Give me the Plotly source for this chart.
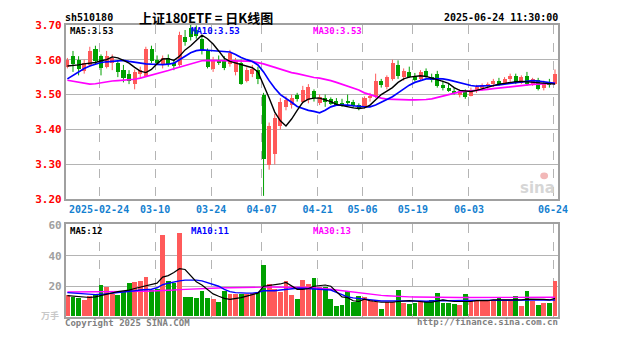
import plotly.graph_objects as go

# ---- trading days shown on the chart ----
dates = [
    "2025-02-14", "2025-02-17", "2025-02-18", "2025-02-19", "2025-02-20", "2025-02-21",
    "2025-02-24", "2025-02-25", "2025-02-26", "2025-02-27", "2025-02-28",
    "2025-03-03", "2025-03-04", "2025-03-05", "2025-03-06", "2025-03-07",
    "2025-03-10", "2025-03-11", "2025-03-12", "2025-03-13", "2025-03-14",
    "2025-03-17", "2025-03-18", "2025-03-19", "2025-03-20", "2025-03-21",
    "2025-03-24", "2025-03-25", "2025-03-26", "2025-03-27", "2025-03-28", "2025-03-31",
    "2025-04-01", "2025-04-02", "2025-04-03", "2025-04-07", "2025-04-08", "2025-04-09",
    "2025-04-10", "2025-04-11", "2025-04-14", "2025-04-15", "2025-04-16", "2025-04-17",
    "2025-04-18", "2025-04-21", "2025-04-22", "2025-04-23", "2025-04-24", "2025-04-25",
    "2025-04-28", "2025-04-29", "2025-04-30",
    "2025-05-06", "2025-05-07", "2025-05-08", "2025-05-09", "2025-05-12", "2025-05-13",
    "2025-05-14", "2025-05-15", "2025-05-16", "2025-05-19", "2025-05-20", "2025-05-21",
    "2025-05-22", "2025-05-23", "2025-05-26", "2025-05-27", "2025-05-28", "2025-05-29",
    "2025-05-30",
    "2025-06-03", "2025-06-04", "2025-06-05", "2025-06-06", "2025-06-09", "2025-06-10",
    "2025-06-11", "2025-06-12", "2025-06-13", "2025-06-16", "2025-06-17", "2025-06-18",
    "2025-06-19", "2025-06-20", "2025-06-23", "2025-06-24",
]

# ---- daily prices ----
opens = [
    3.580, 3.612, 3.600, 3.568, 3.585, 3.630, 3.610, 3.580, 3.590, 3.592,
    3.572, 3.560, 3.532, 3.560, 3.555, 3.632, 3.600, 3.588, 3.605, 3.590,
    3.585, 3.665, 3.690, 3.685, 3.660, 3.628, 3.575, 3.600, 3.600, 3.588,
    3.565, 3.590, 3.540, 3.560, 3.570, 3.500, 3.300, 3.330, 3.410, 3.465,
    3.470, 3.500, 3.480, 3.485, 3.510, 3.478, 3.490, 3.488, 3.482, 3.478,
    3.480, 3.480, 3.470, 3.466, 3.492, 3.495, 3.540, 3.522, 3.545, 3.585,
    3.552, 3.565, 3.550, 3.545, 3.568, 3.550, 3.560, 3.528, 3.520, 3.512,
    3.500, 3.510, 3.498, 3.512, 3.520, 3.525, 3.530, 3.540, 3.532, 3.545,
    3.555, 3.535, 3.555, 3.530, 3.542, 3.520, 3.535, 3.532,
]
highs = [
    3.605, 3.625, 3.610, 3.600, 3.637, 3.640, 3.615, 3.625, 3.615, 3.598,
    3.585, 3.570, 3.572, 3.580, 3.637, 3.640, 3.612, 3.612, 3.615, 3.600,
    3.680, 3.685, 3.700, 3.698, 3.670, 3.632, 3.608, 3.612, 3.610, 3.628,
    3.605, 3.600, 3.578, 3.585, 3.580, 3.505, 3.420, 3.445, 3.490, 3.495,
    3.500, 3.505, 3.525, 3.530, 3.515, 3.500, 3.500, 3.492, 3.490, 3.488,
    3.500, 3.485, 3.475, 3.495, 3.505, 3.560, 3.545, 3.555, 3.600, 3.598,
    3.575, 3.580, 3.562, 3.570, 3.575, 3.560, 3.568, 3.540, 3.530, 3.520,
    3.515, 3.515, 3.520, 3.528, 3.532, 3.535, 3.545, 3.548, 3.550, 3.560,
    3.560, 3.555, 3.565, 3.548, 3.548, 3.540, 3.545, 3.572,
]
lows = [
    3.575, 3.565, 3.555, 3.560, 3.580, 3.585, 3.555, 3.575, 3.570, 3.550,
    3.535, 3.530, 3.515, 3.548, 3.550, 3.590, 3.585, 3.575, 3.580, 3.570,
    3.580, 3.640, 3.655, 3.660, 3.615, 3.575, 3.565, 3.585, 3.570, 3.580,
    3.555, 3.528, 3.535, 3.550, 3.530, 3.210, 3.285, 3.300, 3.400, 3.455,
    3.460, 3.480, 3.475, 3.475, 3.480, 3.470, 3.465, 3.470, 3.468, 3.465,
    3.470, 3.462, 3.455, 3.460, 3.480, 3.490, 3.520, 3.515, 3.540, 3.545,
    3.540, 3.548, 3.538, 3.540, 3.548, 3.535, 3.520, 3.512, 3.508, 3.500,
    3.492, 3.488, 3.495, 3.505, 3.512, 3.515, 3.522, 3.525, 3.528, 3.535,
    3.530, 3.530, 3.525, 3.525, 3.512, 3.512, 3.520, 3.528,
]
closes = [
    3.600, 3.588, 3.575, 3.590, 3.625, 3.598, 3.578, 3.610, 3.605, 3.565,
    3.548, 3.540, 3.565, 3.572, 3.630, 3.598, 3.590, 3.605, 3.588, 3.582,
    3.672, 3.650, 3.665, 3.668, 3.625, 3.580, 3.600, 3.590, 3.578, 3.620,
    3.598, 3.532, 3.570, 3.575, 3.545, 3.315, 3.410, 3.435, 3.480, 3.485,
    3.492, 3.488, 3.515, 3.522, 3.490, 3.495, 3.480, 3.475, 3.472, 3.470,
    3.478, 3.468, 3.462, 3.490, 3.498, 3.540, 3.528, 3.550, 3.590, 3.555,
    3.568, 3.552, 3.545, 3.565, 3.552, 3.545, 3.525, 3.520, 3.512, 3.505,
    3.510, 3.495, 3.515, 3.522, 3.528, 3.532, 3.540, 3.530, 3.545, 3.555,
    3.535, 3.550, 3.530, 3.545, 3.518, 3.535, 3.528, 3.560,
]

# ---- price moving averages ----
ma5 = [
    3.582, 3.583, 3.585, 3.588, 3.590, 3.592, 3.597, 3.600, 3.608, 3.605,
    3.598, 3.590, 3.578, 3.567, 3.563, 3.572, 3.588, 3.602, 3.603, 3.598,
    3.610, 3.628, 3.640, 3.655, 3.670, 3.660, 3.645, 3.625, 3.604, 3.595,
    3.590, 3.585, 3.580, 3.577, 3.565, 3.530, 3.490, 3.450, 3.425, 3.410,
    3.430, 3.455, 3.478, 3.487, 3.490, 3.490, 3.485, 3.480, 3.472, 3.468,
    3.465, 3.462, 3.460, 3.462, 3.470, 3.485, 3.500, 3.510, 3.520, 3.535,
    3.545, 3.550, 3.553, 3.554, 3.552, 3.548, 3.543, 3.538, 3.532, 3.520,
    3.512, 3.510, 3.509, 3.512, 3.517, 3.522, 3.527, 3.530, 3.532, 3.535,
    3.537, 3.538, 3.537, 3.536, 3.535, 3.533, 3.531, 3.530,
]
ma10 = [
    3.545, 3.555, 3.565, 3.575, 3.582, 3.588, 3.592, 3.594, 3.596, 3.598,
    3.598, 3.595, 3.592, 3.590, 3.588, 3.587, 3.586, 3.586, 3.587, 3.590,
    3.600, 3.610, 3.620, 3.626, 3.628, 3.627, 3.626, 3.625, 3.624, 3.622,
    3.615, 3.606, 3.600, 3.595, 3.585, 3.565, 3.540, 3.518, 3.500, 3.490,
    3.478, 3.466, 3.460, 3.455, 3.452, 3.448, 3.455, 3.465, 3.470, 3.471,
    3.470, 3.468, 3.466, 3.465, 3.465, 3.470, 3.478, 3.486, 3.494, 3.505,
    3.516, 3.527, 3.535, 3.540, 3.545, 3.546, 3.546, 3.545, 3.542, 3.538,
    3.533, 3.528, 3.526, 3.524, 3.524, 3.524, 3.526, 3.528, 3.530, 3.532,
    3.535, 3.538, 3.540, 3.540, 3.539, 3.537, 3.534, 3.532,
]
ma30 = [
    3.541, 3.538, 3.535, 3.532, 3.530, 3.531, 3.534, 3.537, 3.539, 3.540,
    3.541, 3.542, 3.544, 3.547, 3.551, 3.555, 3.560, 3.564, 3.569, 3.574,
    3.579, 3.583, 3.588, 3.593, 3.597, 3.598, 3.598, 3.598, 3.598, 3.597,
    3.597, 3.596, 3.596, 3.595, 3.592, 3.588, 3.583, 3.578, 3.572, 3.567,
    3.563, 3.560, 3.556, 3.552, 3.549, 3.547, 3.544, 3.540, 3.535, 3.530,
    3.525, 3.520, 3.513, 3.505, 3.500, 3.494, 3.490, 3.487, 3.486, 3.485,
    3.485, 3.485, 3.485, 3.485, 3.486, 3.488, 3.492, 3.496, 3.500, 3.504,
    3.508, 3.509, 3.510, 3.512, 3.513, 3.515, 3.517, 3.519, 3.521, 3.523,
    3.525, 3.527, 3.528, 3.529, 3.530, 3.531, 3.532, 3.533,
]

# ---- volume (10k lots) and its moving averages ----
volume = [
    14.0, 12.5, 12.0, 11.0, 13.5, 14.5, 20.5, 19.0, 14.5, 14.0,
    16.5, 22.0, 22.5, 23.0, 26.0, 17.5, 18.0, 53.5, 23.0, 22.0,
    54.5, 12.5, 12.5, 12.0, 16.5, 12.0, 11.5, 9.5, 16.5, 14.5,
    14.5, 14.5, 14.5, 15.0, 16.0, 33.5, 21.0, 18.0, 16.0, 23.5,
    14.0, 11.5, 24.0, 21.0, 25.0, 19.5, 19.5, 11.5, 7.0, 7.5,
    16.5, 9.5, 13.5, 13.0, 10.5, 9.5, 5.0, 9.5, 9.5, 17.0,
    8.5, 8.0, 8.5, 10.0, 10.0, 10.5, 15.5, 8.5, 8.5, 8.0,
    7.5, 14.5, 11.0, 11.0, 10.5, 10.5, 10.0, 12.5, 10.5, 10.5,
    13.5, 7.0, 16.5, 10.0, 7.5, 9.0, 9.0, 23.5,
]
vma5 = [
    13.9, 13.5, 13.0, 12.6, 12.6, 13.0, 14.0, 15.0, 16.0, 16.5,
    17.0, 17.5, 18.5, 19.5, 20.0, 21.0, 22.0, 26.0, 27.0, 29.0,
    31.5, 31.0, 27.0, 23.0, 20.8, 18.0, 15.0, 13.4, 12.0, 11.4,
    11.8, 12.5, 13.5, 14.5, 15.5, 20.0, 20.5, 21.0, 21.5, 22.5,
    20.0, 18.0, 18.0, 18.5, 20.0, 20.5, 20.8, 20.0, 16.5, 13.0,
    12.5, 10.5, 10.0, 11.5, 10.5, 10.0, 9.5, 9.5, 9.5, 10.0,
    10.3, 10.5, 10.3, 9.8, 9.5, 9.5, 10.5, 11.0, 10.5, 10.0,
    10.0, 10.0, 10.0, 10.5, 10.3, 10.5, 11.0, 11.0, 11.0, 11.0,
    11.4, 11.0, 11.5, 11.5, 11.3, 11.4, 11.0, 12.0,
]
vma10 = [
    15.8, 15.5, 15.0, 14.7, 14.5, 14.5, 14.7, 15.0, 15.5, 15.8,
    16.0, 16.5, 17.0, 17.5, 17.7, 18.0, 19.0, 21.0, 22.0, 23.0,
    23.5, 24.0, 24.0, 24.0, 23.5, 22.5, 21.5, 20.0, 18.0, 16.5,
    15.8, 15.5, 15.5, 15.5, 16.0, 17.0, 17.0, 17.0, 17.5, 18.0,
    18.5, 18.7, 18.7, 18.5, 18.5, 18.0, 17.7, 17.5, 16.0, 14.5,
    13.0, 12.4, 12.0, 11.5, 11.0, 10.5, 10.3, 10.3, 10.3, 10.5,
    10.7, 10.5, 10.3, 10.3, 10.2, 10.4, 10.6, 10.6, 10.5, 10.4,
    10.4, 10.6, 10.7, 10.7, 10.6, 10.5, 10.5, 10.6, 10.7, 10.8,
    10.8, 10.7, 10.9, 11.0, 11.0, 10.9, 10.8, 11.0,
]
vma30 = [
    16.2, 16.2, 16.3, 16.3, 16.3, 16.3, 16.3, 16.3, 16.3, 16.3,
    16.4, 16.5, 16.5, 16.6, 16.7, 16.8, 16.9, 17.0, 17.2, 17.5,
    17.8, 18.0, 18.3, 18.5, 18.7, 18.9, 19.0, 19.0, 19.0, 19.0,
    19.0, 19.1, 19.2, 19.2, 19.3, 19.4, 19.5, 19.5, 19.5, 19.5,
    19.5, 19.4, 19.3, 19.2, 19.0, 18.8, 18.5, 18.0, 17.5, 17.0,
    16.5, 16.0, 15.5, 15.0, 14.5, 14.3, 14.0, 13.8, 13.5, 13.3,
    13.1, 13.0, 12.9, 12.8, 12.7, 12.7, 12.6, 12.6, 12.6, 12.6,
    12.6, 12.6, 12.6, 12.6, 12.6, 12.6, 12.6, 12.6, 12.6, 12.6,
    12.6, 12.6, 12.7, 12.7, 12.7, 12.8, 12.8, 12.8,
]

tick_dates = ["2025-02-24", "2025-03-10", "2025-03-24", "2025-04-07", "2025-04-21",
              "2025-05-06", "2025-05-19", "2025-06-03", "2025-06-24"]
tick_text = ["2025-02-24", "03-10", "03-24", "04-07", "04-21",
             "05-06", "05-19", "06-03", "06-24"]
price_ticks = [3.20, 3.30, 3.40, 3.50, 3.60, 3.70]
vol_ticks = [20, 40, 60]

W, H = 627, 342
RED = "#FF5A5A"
GREEN = "#00A000"
GRID = "#B4B4B4"
FRAME = "#A0A0A0"
MONO = "DejaVu Sans Mono"


def fx(p):
    return p / W


def fy(p):
    return 1 - p / H


idx = list(range(len(dates)))
is_up = [c >= o for o, c in zip(opens, closes)]
colors = [RED if u else GREEN for u in is_up]

fig = go.Figure()

# candle wicks, one trace per colour
for up_flag, col in ((True, RED), (False, GREEN)):
    wx, wy = [], []
    for i in idx:
        if is_up[i] == up_flag:
            wx += [i, i, None]
            wy += [lows[i], highs[i], None]
    fig.add_trace(go.Scatter(x=wx, y=wy, mode="lines", line=dict(color=col, width=1),
                             hoverinfo="skip", xaxis="x", yaxis="y"))

# candle bodies
body_base = [min(o, c) for o, c in zip(opens, closes)]
body_len = [max(abs(c - o), 0.003) for o, c in zip(opens, closes)]
fig.add_trace(go.Bar(x=idx, y=body_len, base=body_base, width=0.72,
                     marker=dict(color=colors, line=dict(width=0)),
                     xaxis="x", yaxis="y"))

# price moving averages
for series, col, w in ((ma30, "#FF00FF", 1.7), (ma10, "#0000FF", 1.7), (ma5, "#000000", 1.4)):
    fig.add_trace(go.Scatter(x=idx, y=series, mode="lines", line=dict(color=col, width=w),
                             xaxis="x", yaxis="y"))

# volume bars and their averages
fig.add_trace(go.Bar(x=idx, y=volume, width=0.86,
                     marker=dict(color=colors, line=dict(width=0)),
                     xaxis="x2", yaxis="y2"))
for series, col, w in ((vma30, "#FF00FF", 1.4), (vma10, "#0000FF", 1.4), (vma5, "#000000", 1.2)):
    fig.add_trace(go.Scatter(x=idx, y=series, mode="lines", line=dict(color=col, width=w),
                             xaxis="x2", yaxis="y2"))

tick_pos = [dates.index(d) - 0.35 for d in tick_dates]
x_dom = [fx(67), fx(567)]
x_rng = [-0.26, 87.53]

common_x = dict(domain=x_dom, range=x_rng, showgrid=True, gridcolor=GRID, griddash="dash",
                gridwidth=1, zeroline=False, showline=True, mirror=True, linecolor=FRAME,
                linewidth=2, ticks="", tickvals=tick_pos)

fig.update_layout(
    width=W, height=H,
    margin=dict(l=0, r=0, t=0, b=0),
    paper_bgcolor="white", plot_bgcolor="white",
    showlegend=False, barmode="overlay", bargap=0,
    xaxis=dict(**common_x, anchor="y", ticktext=tick_text,
               tickfont=dict(family=MONO, size=10, color="#1480D0", weight="bold")),
    yaxis=dict(domain=[fy(201), fy(19.5)], range=[3.2, 3.7], tickvals=price_ticks,
               ticktext=[f"{v:.2f}" for v in price_ticks], showgrid=True, gridcolor=GRID,
               zeroline=False, showline=True, mirror=True, linecolor=FRAME, linewidth=2,
               ticks="", tickfont=dict(family=MONO, size=11, color="#FF0000", weight="bold")),
    xaxis2=dict(**common_x, anchor="y2", showticklabels=False),
    yaxis2=dict(domain=[fy(323), fy(227)], range=[0, 60.6], tickvals=vol_ticks,
                ticktext=[str(v) for v in vol_ticks], showgrid=True, gridcolor=GRID,
                zeroline=False, showline=True, mirror=True, linecolor=FRAME, linewidth=2,
                ticks="", tickfont=dict(family=MONO, size=11, color="#A0A0A0", weight="bold")),
)


def label(text, x, y, color="#000000", size=10, anchor="left", family=MONO, weight="bold"):
    fig.add_annotation(text=text, x=fx(x), y=fy(y), xref="paper", yref="paper",
                       xanchor=anchor, yanchor="middle", showarrow=False,
                       font=dict(family=family, size=size, color=color, weight=weight))


# header
label("sh510180", 64, 12, size=10)
label("上证180ETF = 日K线图", 209, 12, size=13, anchor="center",
      family="Noto Sans CJK SC")
label("2025-06-24 11:30:00", 569, 12, size=10, anchor="right")

# moving-average legends (last values)
label(f"MA5:{ma5[-1]:.2f}", 69, 26, size=9)
label(f"MA10:{ma10[-1]:.2f}", 192, 26, color="#0000FF", size=9)
label(f"MA30:{ma30[-1]:.2f}", 316, 26, color="#FF00FF", size=9)
label(f"MA5:{vma5[-1]:.0f}", 69, 234, size=9)
label(f"MA10:{vma10[-1]:.0f}", 192, 234, color="#0000FF", size=9)
label(f"MA30:{vma30[-1]:.0f}", 316, 234, color="#FF00FF", size=9)

# volume unit, footer and watermark
label("万手", 62, 322, color="#C8C8C8", size=9, anchor="right", family="Noto Sans CJK SC")
label("Copyright 2025 SINA.COM", 64, 330, color="#808080", size=9)
label("http://finance.sina.com.cn", 569, 329, color="#808080", size=9, anchor="right")
fig.add_shape(type="circle", xref="paper", yref="paper",
              x0=fx(549), x1=fx(557), y0=fy(180), y1=fy(173),
              fillcolor="#F2B8B8", line=dict(width=0), layer="below")
label("sina", 566, 189, color="#D6D6D6", size=15, anchor="right",
      family="DejaVu Sans", weight="bold")

fig.write_html("out.html")
